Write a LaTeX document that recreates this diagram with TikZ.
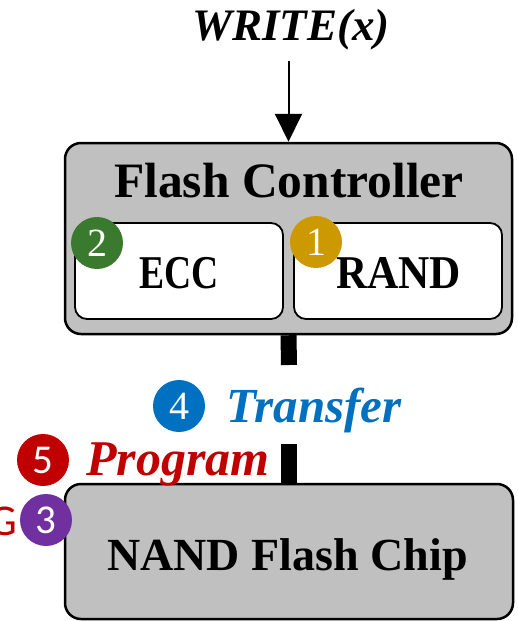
\documentclass[tikz,border=0pt]{standalone}
\usepackage{fontspec}
\setmainfont{Liberation Serif}
\newfontfamily\sansf{Carlito}
\usetikzlibrary{arrows.meta}
\definecolor{boxgray}{HTML}{C0C0C0}
\definecolor{cgreen}{HTML}{3A7A2F}
\definecolor{cgold}{HTML}{CC9900}
\definecolor{cblue}{HTML}{0070C0}
\definecolor{cred}{HTML}{C00000}
\definecolor{cpurple}{HTML}{7030A0}
\tikzset{
  bigbox/.style={draw=black, line width=2.5pt, fill=boxgray, rounded corners=16pt, inner sep=0pt},
  smallbox/.style={draw=black, line width=1.8pt, fill=white, rounded corners=12pt, inner sep=0pt, minimum width=208pt, minimum height=96pt},
  txt/.style={anchor=base, inner sep=0pt, outer sep=0pt},
  badge/.style={circle, inner sep=0pt, minimum size=52pt, text=white},
  bar/.style={line width=16pt},
  arr/.style={line width=2pt, -{Triangle[length=28pt,width=27pt]}}
}
\begin{document}
\begin{tikzpicture}[x=1pt,y=-1pt]
\useasboundingbox (0,0) rectangle (518,621);
% boxes
\node[bigbox, minimum width=447pt, minimum height=191pt] (ctrl) at (288.5,238.5) {};
\node[smallbox] (ecc) at (179,271) {};
\node[smallbox] (rand) at (398,271) {};
\node[bigbox, minimum width=448pt, minimum height=135pt] (nand) at (289,551.5) {};
% texts
\node[txt] (wtxt) at (291,40) {\fontsize{45pt}{45pt}\selectfont\bfseries\itshape WRITE(x)};
\node[txt] (ctxt) at (289,197) {\fontsize{49.5pt}{49.5pt}\selectfont\bfseries Flash Controller};
\node[txt] (etxt) at (179,288) {\fontsize{47pt}{47pt}\selectfont\bfseries\scalebox{0.8}[1]{ECC}};
\node[txt] (rtxt) at (398.5,288) {\fontsize{47pt}{47pt}\selectfont\bfseries\scalebox{0.92}[1]{RAND}};
\node[txt] (ntxt) at (287.5,570) {\fontsize{46pt}{46pt}\selectfont\bfseries NAND Flash Chip};
\node[txt, text=cblue] (ttxt) at (314,422) {\fontsize{49pt}{49pt}\selectfont\bfseries\itshape Transfer};
\node[txt, text=cred] (ptxt) at (178,475) {\fontsize{50pt}{50pt}\selectfont\bfseries\itshape Program};
\node[anchor=base east, inner sep=0pt, text=cred] (gtxt) at (17,535) {\fontsize{44pt}{44pt}\selectfont\sansf G};
% connectors
\coordinate (wtop) at (288.5,61);
\draw[arr] (wtop) -- (ctrl.north);
\coordinate (b1) at (289,365);
\coordinate (b2) at (289,444);
\draw[bar] (ctrl.south) -- (b1);
\draw[bar] (b2) -- (nand.north);
% badges
\node[badge, fill=cgreen] (n2) at (97,243) {\fontsize{40pt}{40pt}\selectfont 2};
\node[badge, fill=cgold] (n1) at (316,242) {\fontsize{40pt}{40pt}\selectfont 1};
\node[badge, fill=cblue] (n4) at (179,406) {\fontsize{40pt}{40pt}\selectfont 4};
\node[badge, fill=cred] (n5) at (43,460) {\fontsize{41pt}{41pt}\selectfont\sansf 5};
\node[badge, fill=cpurple] (n3) at (46,520) {\fontsize{41pt}{41pt}\selectfont\sansf 3};
\end{tikzpicture}
\end{document}
